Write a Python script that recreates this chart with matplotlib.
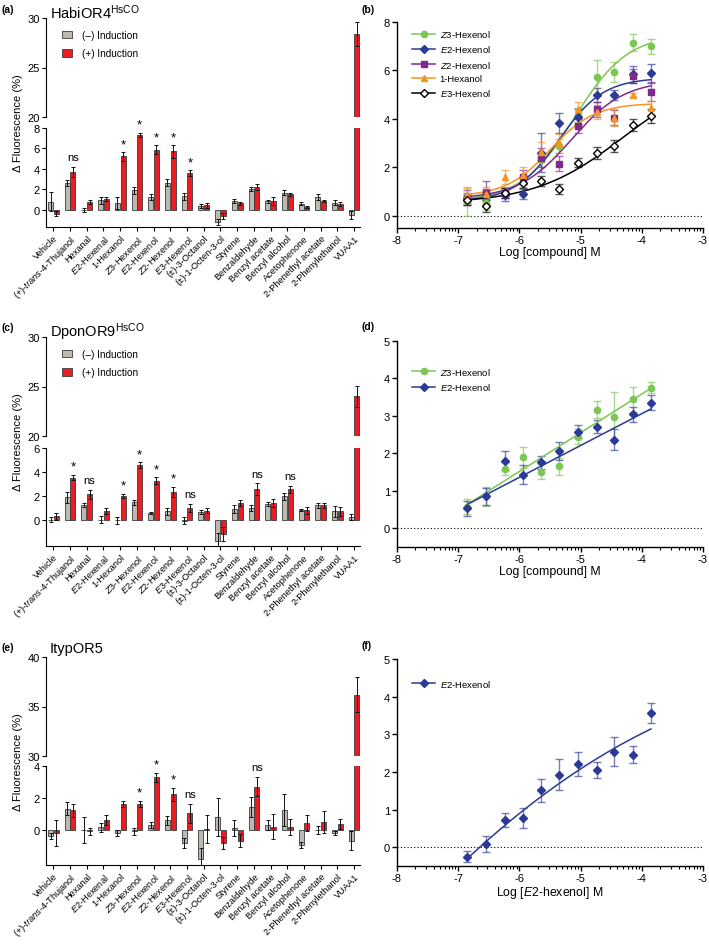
import numpy as np
import matplotlib
matplotlib.use('Agg')
import matplotlib.pyplot as plt
from matplotlib.lines import Line2D
from matplotlib.colors import to_rgba

plt.rcParams['font.family'] = ['Liberation Sans', 'DejaVu Sans']
plt.rcParams['mathtext.fontset'] = 'custom'
plt.rcParams['mathtext.rm'] = 'Liberation Sans'
plt.rcParams['mathtext.it'] = 'Liberation Sans:italic'
plt.rcParams['axes.unicode_minus'] = False

# ---- bar panels data ----
compounds = ['Vehicle', '(+)-$\\it{trans}$-4-Thujanol', 'Hexanal', '$\\it{E}$2-Hexenal', '1-Hexanol',
             '$\\it{Z}$3-Hexenol', '$\\it{E}$2-Hexenol', '$\\it{Z}$2-Hexenol', '$\\it{E}$3-Hexenol',
             '(±)-3-Octanol', '(±)-1-Octen-3-ol', 'Styrene', 'Benzaldehyde', 'Benzyl acetate',
             'Benzyl alcohol', 'Acetophenone', '2-Phenethyl acetate', '2-Phenylethanol', 'VUAA1']

# (a) HabiOR4
a_neg = [0.78, 2.62, 0.0, 0.9, 0.68, 1.88, 1.26, 2.62, 1.29, 0.36, -1.17, 0.84, 2.0, 0.81, 1.68, 0.58, 1.2, 0.68, -0.52]
a_neg_err = [0.95, 0.3, 0.2, 0.3, 0.6, 0.3, 0.3, 0.35, 0.3, 0.2, 0.3, 0.2, 0.2, 0.15, 0.2, 0.15, 0.3, 0.25, 0.4]
a_pos = [-0.39, 3.69, 0.78, 1.07, 5.21, 7.31, 5.89, 5.7, 3.59, 0.45, -0.61, 0.61, 2.2, 0.87, 1.49, 0.23, 0.87, 0.52, 28.4]
a_pos_err = [0.25, 0.5, 0.2, 0.2, 0.4, 0.2, 0.4, 0.6, 0.25, 0.25, 0.3, 0.15, 0.3, 0.4, 0.15, 0.1, 0.1, 0.2, 1.2]
a_sig = [(1, 'ns'), (4, '*'), (5, '*'), (6, '*'), (7, '*'), (8, '*')]

# (c) DponOR9
c_neg = [0.0, 1.86, 1.22, 0.0, -0.05, 1.44, 0.55, 0.7, -0.1, 0.64, -1.75, 0.89, 0.94, 1.3, 1.97, 0.83, 1.22, 0.69, 0.19]
c_neg_err = [0.2, 0.47, 0.15, 0.3, 0.3, 0.25, 0.1, 0.3, 0.3, 0.2, 0.6, 0.3, 0.25, 0.15, 0.3, 0.08, 0.2, 0.45, 0.25]
c_pos = [0.28, 3.53, 2.11, 0.7, 2.0, 4.55, 3.25, 2.33, 0.97, 0.75, -1.2, 1.42, 2.55, 1.39, 2.53, 0.78, 1.22, 0.69, 24.0]
c_pos_err = [0.3, 0.2, 0.4, 0.25, 0.15, 0.25, 0.3, 0.4, 0.35, 0.2, 0.55, 0.25, 0.5, 0.35, 0.3, 0.3, 0.2, 0.35, 1.1]
c_sig = [(1, '*'), (2, 'ns'), (4, '*'), (5, '*'), (6, '*'), (7, '*'), (8, 'ns'), (12, 'ns'), (14, 'ns')]

# (e) ItypOR5
e_neg = [-0.4, 1.33, 0.0, 0.15, -0.2, -0.1, 0.32, 0.59, -0.84, -1.83, 0.8, 0.1, 1.43, 0.3, 1.22, -0.95, 0.0, -0.2, -0.67]
e_neg_err = [0.2, 0.4, 0.8, 0.3, 0.2, 0.2, 0.2, 0.3, 0.3, 0.7, 1.2, 0.5, 0.6, 0.3, 1.0, 0.2, 0.25, 0.15, 0.6]
e_pos = [-0.2, 1.22, -0.1, 0.63, 1.62, 1.62, 3.28, 2.23, 1.05, 0.05, -0.82, -0.67, 2.7, 0.2, 0.2, 0.44, 0.48, 0.36, 36.2]
e_pos_err = [0.8, 0.4, 0.2, 0.3, 0.2, 0.2, 0.3, 0.4, 0.6, 0.9, 0.4, 0.4, 0.6, 0.8, 0.5, 0.5, 0.7, 0.3, 1.8]
e_sig = [(5, '*'), (6, '*'), (7, '*'), (8, 'ns'), (12, 'ns')]

# ---- dose response data ----
log_conc = [-6.85, -6.55, -6.24, -5.94, -5.64, -5.35, -5.04, -4.74, -4.45, -4.15, -3.85]

b_z3 = [0.6, 0.55, 1.0, 1.4, 2.3, 2.88, 4.16, 5.72, 5.94, 7.15, 6.99]
b_z3_err = [0.6, 0.3, 0.2, 0.2, 0.3, 0.3, 0.3, 0.7, 0.4, 0.35, 0.3]
b_e2 = [0.75, 0.9, 0.85, 0.9, 2.6, 3.84, 4.09, 4.99, 4.99, 5.85, 5.88]
b_e2_err = [0.2, 0.2, 0.25, 0.2, 0.8, 0.4, 0.3, 0.3, 0.2, 0.35, 0.4]
b_z2 = [0.75, 0.95, 0.95, 1.6, 2.4, 2.16, 3.7, 4.39, 4.05, 5.77, 5.12]
b_z2_err = [0.3, 0.5, 0.2, 0.3, 0.4, 0.3, 0.3, 0.3, 0.3, 0.3, 0.4]
b_hex = [0.85, 0.9, 1.61, 1.68, 2.64, 2.99, 4.39, 4.28, 4.05, 4.99, 4.46]
b_hex_err = [0.3, 0.3, 0.3, 0.35, 0.4, 0.4, 0.3, 0.3, 0.35, 0.1, 0.3]
b_e3 = [0.65, 0.4, 0.95, 1.36, 1.43, 1.12, 2.2, 2.58, 2.88, 3.75, 4.12]
b_e3_err = [0.2, 0.25, 0.2, 0.2, 0.2, 0.2, 0.2, 0.25, 0.25, 0.25, 0.3]
# 4PL fits: bottom, top, logEC50, hill
b_z3_fit = (0.6, 7.5, -5.1, 1.0)
b_e2_fit = (0.6, 5.7, -5.35, 1.2)
b_z2_fit = (0.7, 5.6, -5.15, 1.0)
b_hex_fit = (0.8, 4.65, -5.5, 1.2)
b_e3_fit = (0.5, 6.0, -4.3, 0.6)

d_z3 = [0.58, 0.85, 1.58, 1.89, 1.51, 1.65, 2.45, 3.17, 2.98, 3.44, 3.75]
d_z3_err = [0.2, 0.25, 0.15, 0.27, 0.2, 0.22, 0.2, 0.22, 0.67, 0.34, 0.15]
d_e2 = [0.54, 0.85, 1.8, 1.43, 1.76, 2.07, 2.58, 2.71, 2.36, 3.05, 3.35]
d_e2_err = [0.2, 0.23, 0.25, 0.25, 0.17, 0.24, 0.17, 0.17, 0.28, 0.2, 0.2]
# linear fits: slope, intercept
d_z3_fit = (1.033, 7.716)
d_e2_fit = (0.85, 6.46)

f_e2 = [-0.25, 0.09, 0.72, 0.78, 1.51, 1.93, 2.21, 2.05, 2.54, 2.46, 3.56]
f_e2_err = [0.15, 0.22, 0.18, 0.27, 0.3, 0.4, 0.33, 0.22, 0.38, 0.22, 0.27]
# quadratic fit in (x + 6.85)
f_e2_fit = (-0.121, 1.51, -0.3)

W, H = 709, 945
fig = plt.figure(figsize=(W / 100, H / 100), dpi=100)

GREY = '#bdb9b1'
RED = '#ed1c24'
EDGE = '#3a3a3a'


def add_px(x0, y0, x1, y1):
    return fig.add_axes([x0 / W, 1 - y1 / H, (x1 - x0) / W, (y1 - y0) / H])


def bar_panel(x0, x1, up, low, neg, neg_err, pos, pos_err, ulim, uticks, llim, lticks, sig, title, tpos, legend):
    ax_u = add_px(x0, up[0], x1, up[1])
    ax_l = add_px(x0, low[0], x1, low[1])
    x = np.arange(len(compounds))
    for ax in (ax_u, ax_l):
        ax.bar(x - 0.17, neg, 0.3, color=GREY, edgecolor=EDGE, linewidth=0.6, label='(–) Induction')
        ax.bar(x + 0.17, pos, 0.3, color=RED, edgecolor=EDGE, linewidth=0.6, label='(+) Induction')
        ax.errorbar(x - 0.17, neg, yerr=neg_err, fmt='none', ecolor='#111111', elinewidth=0.7,
                    capsize=1.3, capthick=0.7)
        ax.errorbar(x + 0.17, pos, yerr=pos_err, fmt='none', ecolor='#111111', elinewidth=0.7,
                    capsize=1.3, capthick=0.7)
        ax.set_xlim(-0.44, 18.35)
        for s in ('top', 'right'):
            ax.spines[s].set_visible(False)
        for s in ('left', 'bottom'):
            ax.spines[s].set_linewidth(0.8)
        ax.tick_params(axis='y', labelsize=8, length=3, width=0.8, pad=1.5)
    ax_u.spines['bottom'].set_visible(False)
    ax_u.set_xticks([])
    ax_u.set_ylim(*ulim)
    ax_u.set_yticks(uticks)
    ax_l.set_ylim(*llim)
    ax_l.set_yticks(lticks)
    ax_l.set_xticks(x)
    ax_l.set_xticklabels(compounds, rotation=45, ha='right', rotation_mode='anchor', fontsize=6.7)
    ax_l.tick_params(axis='x', length=3, width=0.8, pad=1.5)
    for i, t in sig:
        ax_l.annotate(t, (x[i] + 0.17, pos[i] + pos_err[i]), xytext=(0, 6 if t == '*' else 7),
                      textcoords='offset points', ha='center', va='center',
                      fontsize=9.5 if t == '*' else 8)
    fig.text(50 / W, 1 - tpos / H, title, fontsize=10.5, va='baseline', ha='left')
    yl = (up[0] + low[1]) / 2
    fig.text(18 / W, 1 - yl / H, 'Δ Fluorescence (%)', rotation=90, fontsize=8, va='center', ha='center')
    if legend:
        ax_u.legend(loc='upper left', bbox_to_anchor=(0.05, 0.88), frameon=False, fontsize=7.2,
                    handlelength=1.05, handleheight=0.8, handletextpad=1.0, labelspacing=0.85,
                    borderaxespad=0, borderpad=0)


bar_panel(46, 360, (19, 118), (129, 228), a_neg, a_neg_err, a_pos, a_pos_err,
          (20, 30), [20, 25, 30], (-1.7, 8), [0, 2, 4, 6, 8], a_sig, 'HabiOR4$^{\\rm HsCO}$', 18.5, True)
bar_panel(46, 360, (338, 437), (449, 547), c_neg, c_neg_err, c_pos, c_pos_err,
          (20, 30), [20, 25, 30], (-2.2, 6), [0, 2, 4, 6], c_sig, 'DponOR9$^{\\rm HsCO}$', 337, True)
bar_panel(46, 360, (658, 757), (767, 866), e_neg, e_neg_err, e_pos, e_pos_err,
          (30, 40), [30, 35, 40], (-2.2, 4), [0, 2, 4], e_sig, 'ItypOR5', 653, False)


def logistic(x, bottom, top, logec50, hill):
    return bottom + (top - bottom) / (1 + 10 ** (hill * (logec50 - x)))


GREEN = '#7cc653'
BLUE = '#2b3a96'
PURPLE = '#7d2a8c'
ORANGE = '#f7941d'


def dose_axes(box, ylim, yticks, xlabel):
    ax = add_px(*box)
    ax.set_xlim(-8, -3)
    ax.set_ylim(*ylim)
    ax.set_yticks(yticks)
    ax.set_xticks(range(-8, -2))
    minor = [d + np.log10(k) for d in range(-8, -3) for k in range(2, 10)]
    ax.set_xticks(minor, minor=True)
    for s in ('top', 'right'):
        ax.spines[s].set_visible(False)
    for s in ('left', 'bottom'):
        ax.spines[s].set_linewidth(1.0)
    ax.tick_params(which='major', labelsize=8, length=3.5, width=1.0, pad=1.5)
    ax.tick_params(which='minor', length=2, width=0.8)
    ax.axhline(0, color='black', linestyle=(0, (1, 2)), linewidth=0.8, zorder=1)
    ax.set_xlabel(xlabel, fontsize=8.8, labelpad=1)
    return ax


def series(ax, y, yerr, color, marker, ms, mfc=None):
    ax.errorbar(log_conc, y, yerr=yerr, fmt='none', ecolor=to_rgba(color, 0.65), elinewidth=1.0,
                capsize=3, capthick=1.0, zorder=2)
    ax.plot(log_conc, y, linestyle='none', marker=marker, ms=ms, color=color,
            mfc=mfc if mfc else color, mec=color, mew=1.0, zorder=4)


xs = np.linspace(log_conc[0], log_conc[-1], 200)

# (b)
ax_b = dose_axes((397, 23, 703, 229), (-0.5, 8), [0, 2, 4, 6, 8], 'Log [compound] M')
b_series = [
    (b_z3, b_z3_err, b_z3_fit, GREEN, 'o', 4.5, None, '$\\it{Z}$3-Hexenol'),
    (b_e2, b_e2_err, b_e2_fit, BLUE, 'D', 3.8, None, '$\\it{E}$2-Hexenol'),
    (b_z2, b_z2_err, b_z2_fit, PURPLE, 's', 4.3, None, '$\\it{Z}$2-Hexenol'),
    (b_hex, b_hex_err, b_hex_fit, ORANGE, '^', 4.8, None, '1-Hexanol'),
    (b_e3, b_e3_err, b_e3_fit, 'black', 'D', 4.0, 'white', '$\\it{E}$3-Hexenol'),
]
handles = []
for y, err, fit, col, mk, ms, mfc, lab in b_series:
    series(ax_b, y, err, col, mk, ms, mfc)
    ax_b.plot(xs, logistic(xs, *fit), color=col, linewidth=1.1, zorder=3)
    handles.append(Line2D([], [], color=col, marker=mk, ms=ms, mfc=mfc if mfc else col, mec=col,
                          linewidth=1.1, label=lab))
ax_b.legend(handles=handles, loc='upper left', bbox_to_anchor=(0.05, 0.97), frameon=False, fontsize=6.8,
            handlelength=2.4, handletextpad=0.5, labelspacing=0.45, borderaxespad=0, borderpad=0)

# (d)
ax_d = dose_axes((397, 342, 703, 548), (-0.5, 5), [0, 1, 2, 3, 4, 5], 'Log [compound] M')
series(ax_d, d_z3, d_z3_err, GREEN, 'o', 4.5)
series(ax_d, d_e2, d_e2_err, BLUE, 'D', 3.8)
ax_d.plot(xs, d_z3_fit[0] * xs + d_z3_fit[1], color=GREEN, linewidth=1.1, zorder=3)
ax_d.plot(xs, d_e2_fit[0] * xs + d_e2_fit[1], color=BLUE, linewidth=1.1, zorder=3)
ax_d.legend(handles=[Line2D([], [], color=GREEN, marker='o', ms=4.5, linewidth=1.1, label='$\\it{Z}$3-Hexenol'),
                     Line2D([], [], color=BLUE, marker='D', ms=3.8, linewidth=1.1, label='$\\it{E}$2-Hexenol')],
            loc='upper left', bbox_to_anchor=(0.05, 0.88), frameon=False, fontsize=6.8,
            handlelength=2.4, handletextpad=0.5, labelspacing=0.45, borderaxespad=0, borderpad=0)

# (f)
ax_f = dose_axes((397, 660, 703, 867), (-0.5, 5), [0, 1, 2, 3, 4, 5], 'Log [$\\it{E}$2-hexenol] M')
series(ax_f, f_e2, f_e2_err, BLUE, 'D', 3.8)
u = xs - log_conc[0]
ax_f.plot(xs, np.polyval(f_e2_fit, u), color=BLUE, linewidth=1.1, zorder=3)
ax_f.legend(handles=[Line2D([], [], color=BLUE, marker='D', ms=3.8, linewidth=1.1, label='$\\it{E}$2-Hexenol')],
            loc='upper left', bbox_to_anchor=(0.05, 0.91), frameon=False, fontsize=6.8,
            handlelength=2.4, handletextpad=0.5, labelspacing=0.45, borderaxespad=0, borderpad=0)

# panel letters
for lab, px, py in [('(a)', 2, 10), ('(b)', 362, 10), ('(c)', 2, 328), ('(d)', 362, 327),
                    ('(e)', 2, 648), ('(f)', 362, 646)]:
    fig.text(px / W, 1 - py / H, lab, fontsize=7.5, fontweight='bold', va='center', ha='left')

fig.savefig('out.png', dpi=100)
